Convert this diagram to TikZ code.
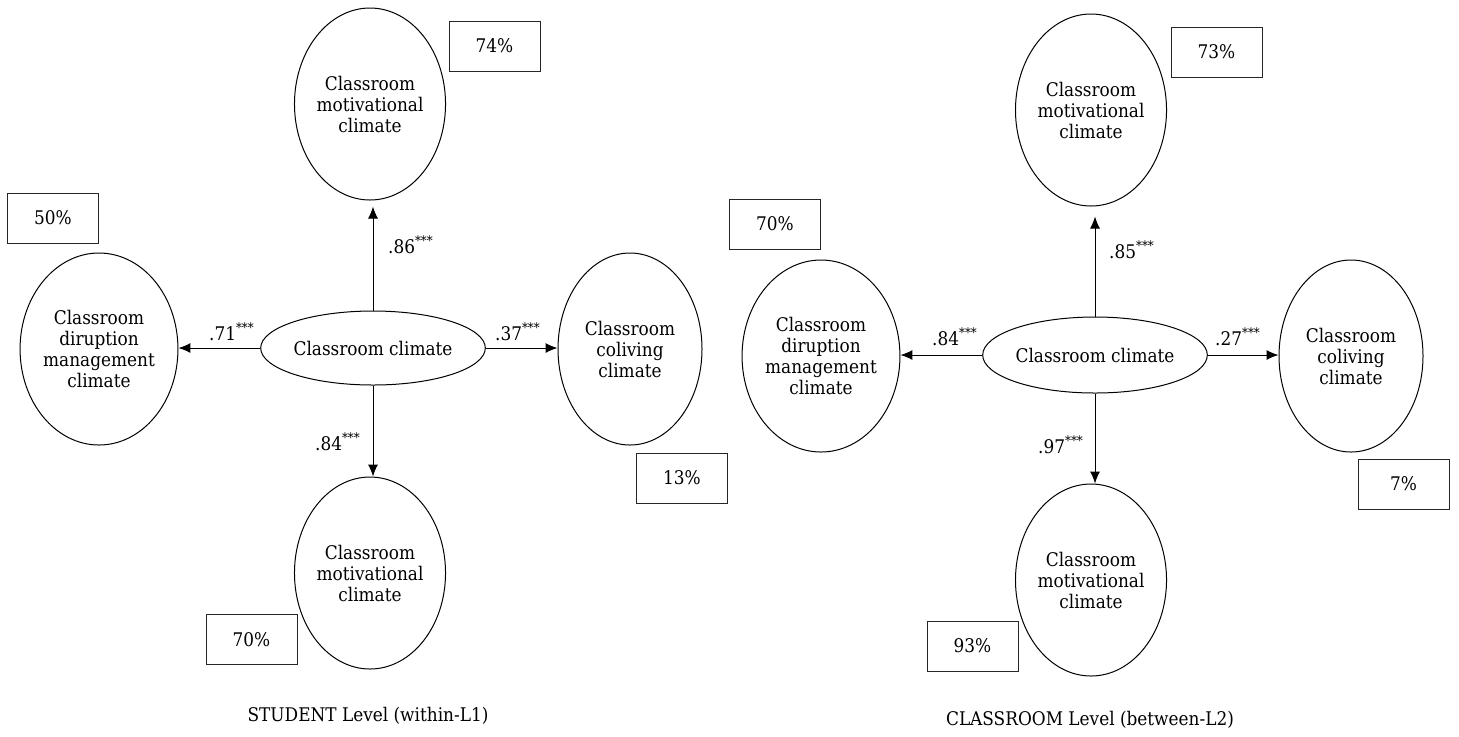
\documentclass[tikz,border=0pt]{standalone}
\usepackage{fontspec}
\setmainfont{DejaVu Serif Condensed}
\usetikzlibrary{shapes.geometric,arrows.meta}
\begin{document}
\begin{tikzpicture}[x=0.5pt,y=-0.5pt,
  every node/.style={font=\fontsize{9.4}{10.5}\selectfont},
  factor/.style={draw, ellipse, line width=0.5pt, minimum width=72pt,
    minimum height=96pt, inner sep=0pt, align=center},
  general/.style={draw, ellipse, line width=0.5pt, minimum width=98pt,
    minimum height=37pt, inner sep=0pt},
  rsq/.style={draw=black!85, line width=0.5pt, minimum width=45.5pt,
    minimum height=25pt, inner sep=0pt},
  coef/.style={inner sep=0pt},
  loadarrow/.style={-{Latex[length=6pt,width=5pt]}, line width=0.5pt}
]
\useasboundingbox (0,0) rectangle (1459,736);

% ---------- within level ----------
\node[general] (c1) at (373,348) {Classroom climate};
\node[factor] (t1) at (370,104) {Classroom\\motivational\\climate};
\node[factor] (b1) at (370,573) {Classroom\\motivational\\climate};
\node[factor] (l1) at (99,349) {Classroom\\diruption\\management\\climate};
\node[factor] (r1) at (630,349) {Classroom\\coliving\\climate};

\draw[loadarrow] (c1.north) -- ([yshift=-3pt]c1.north |- t1.south);
\draw[loadarrow] (c1.south) -- (c1.south |- b1.north);
\draw[loadarrow] (c1.west) -- (c1.west -| l1.east);
\draw[loadarrow] (c1.east) -- (c1.east -| r1.west);

\node[coef] (k1t) at (411,245) {.86\textsuperscript{***}};
\node[coef] (k1l) at (232,332) {.71\textsuperscript{***}};
\node[coef] (k1r) at (518,332) {.37\textsuperscript{***}};
\node[coef] (k1b) at (338,442) {.84\textsuperscript{***}};

\node[rsq] (p1t) at (494.5,46) {74\%};
\node[rsq] (p1l) at (53,218) {50\%};
\node[rsq] (p1r) at (682,478) {13\%};
\node[rsq] (p1b) at (251.5,639.5) {70\%};

\node (cap1) at (368,716) {STUDENT Level (within-L1)};

% ---------- between level ----------
\node[general, minimum width=97pt, minimum height=38pt] (c2) at (1095,355) {Classroom climate};
\node[factor] (t2) at (1091,110) {Classroom\\motivational\\climate};
\node[factor] (b2) at (1091,580) {Classroom\\motivational\\climate};
\node[factor] (l2) at (821,356) {Classroom\\diruption\\management\\climate};
\node[factor] (r2) at (1351,356) {Classroom\\coliving\\climate};

\draw[loadarrow] (c2.north) -- ([yshift=-5pt]c2.north |- t2.south);
\draw[loadarrow] (c2.south) -- (c2.south |- b2.north);
\draw[loadarrow] (c2.west) -- (c2.west -| l2.east);
\draw[loadarrow] (c2.east) -- (c2.east -| r2.west);

\node[coef] (k2t) at (1132,250) {.85\textsuperscript{***}};
\node[coef] (k2l) at (955,337) {.84\textsuperscript{***}};
\node[coef] (k2r) at (1238,337) {.27\textsuperscript{***}};
\node[coef] (k2b) at (1061,445) {.97\textsuperscript{***}};

\node[rsq] (p2t) at (1216.5,52) {73\%};
\node[rsq] (p2l) at (775,224) {70\%};
\node[rsq] (p2r) at (1403.5,484) {7\%};
\node[rsq] (p2b) at (972.5,646) {93\%};

\node (cap2) at (1090,720) {CLASSROOM Level (between-L2)};
\end{tikzpicture}
\end{document}
